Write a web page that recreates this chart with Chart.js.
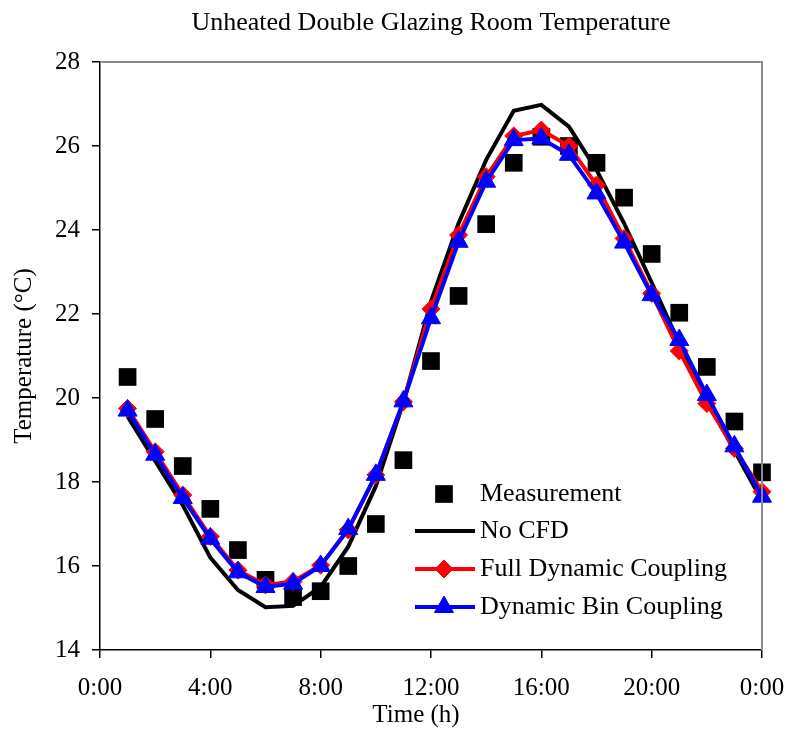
<!DOCTYPE html>
<html>
<head>
<meta charset="utf-8">
<script src="https://cdn.jsdelivr.net/npm/chart.js@4.4.1/dist/chart.umd.min.js"></script>
<style>
  html, body { margin: 0; padding: 0; background: #fff; }
  #wrap { width: 789px; height: 736px; }
</style>
</head>
<body>
<div id="wrap"><canvas id="tempChart" width="789" height="736"></canvas></div>
<script>
// hours of the day (1..24)
const hours = [1, 2, 3, 4, 5, 6, 7, 8, 9, 10, 11, 12, 13, 14, 15, 16, 17, 18, 19, 20, 21, 22, 23, 24];
const xTicks = [0, 4, 8, 12, 16, 20, 24];

const measurement = [20.5, 19.5, 18.38, 17.36, 16.38, 15.67, 15.26, 15.4, 16.0, 17.0, 18.52, 20.88,
    22.43, 24.14, 25.6, 26.22, 26.0, 25.6, 24.77, 23.43, 22.03, 20.74, 19.44, 18.23];
const noCfd = [19.56, 18.5, 17.45, 16.2, 15.43, 15.02, 15.05, 15.5, 16.46, 17.9, 19.9, 22.3,
    24.16, 25.67, 26.84, 26.98, 26.46, 25.43, 24.16, 22.75, 21.3, 19.95, 18.75, 17.55];
const fullCoupling = [19.75, 18.72, 17.69, 16.7, 15.9, 15.55, 15.63, 16.02, 16.86, 18.17, 19.91, 22.12,
    23.88, 25.27, 26.24, 26.38, 26.0, 25.07, 23.8, 22.49, 21.12, 19.87, 18.8, 17.77];
const binCoupling = [19.7, 18.65, 17.62, 16.65, 15.85, 15.5, 15.58, 16.0, 16.88, 18.17, 19.92, 21.9,
    23.72, 25.15, 26.14, 26.18, 25.79, 24.87, 23.7, 22.45, 21.38, 20.07, 18.85, 17.65];

const legendLabels = ["Measurement", "No CFD", "Full Dynamic Coupling", "Dynamic Bin Coupling"];

const serif = "'Liberation Serif', 'Times New Roman', serif";

const toPoints = (vals) => hours.map((h, i) => ({ x: h, y: vals[i] }));

// title, x axis title, gray frame on top/right, and legend inside the plot
const decorPlugin = {
    id: "decor",
    afterDraw(chart) {
        const ctx = chart.ctx;
        const a = chart.chartArea;
        ctx.save();
        ctx.fillStyle = "#000";
        ctx.textAlign = "center";
        ctx.textBaseline = "alphabetic";
        ctx.font = "26px " + serif;
        ctx.fillText("Unheated Double Glazing Room Temperature", 431, 30);

        ctx.font = "25px " + serif;
        ctx.textBaseline = "middle";
        ctx.fillText("Time (h)", 416, 715);

        // gray frame
        ctx.strokeStyle = "#8c8c8c";
        ctx.lineWidth = 2;
        ctx.beginPath();
        ctx.moveTo(a.left, a.top);
        ctx.lineTo(a.right, a.top);
        ctx.lineTo(a.right, a.bottom);
        ctx.stroke();

        // legend
        const rows = [494, 531, 569, 607];
        const ds = chart.data.datasets;
        ctx.font = "26px " + serif;
        ctx.textAlign = "left";
        rows.forEach((y, i) => {
            const d = ds[i];
            if (d.showLine !== false) {
                ctx.strokeStyle = d.borderColor;
                ctx.lineWidth = d.borderWidth;
                ctx.beginPath();
                ctx.moveTo(415, y);
                ctx.lineTo(475, y);
                ctx.stroke();
            }
            if (d.pointRadius > 0) {
                ctx.fillStyle = d.pointBackgroundColor;
                ctx.strokeStyle = d.pointBorderColor;
                ctx.lineWidth = d.pointBorderWidth;
                Chart.helpers.drawPoint(ctx, {
                    pointStyle: d.pointStyle,
                    rotation: 0,
                    radius: d.pointRadius,
                    borderWidth: d.pointBorderWidth,
                }, 444, y);
            }
            ctx.fillStyle = "#000";
            ctx.fillText(legendLabels[i], 480, y);
        });
        ctx.restore();
    },
};

new Chart(document.getElementById("tempChart").getContext("2d"), {
    type: "scatter",
    data: {
        datasets: [
            {
                label: legendLabels[0],
                data: toPoints(measurement),
                showLine: false,
                pointStyle: "rect",
                pointRadius: 12.5,
                pointBackgroundColor: "#000",
                pointBorderColor: "#000",
                pointBorderWidth: 0,
                clip: false,
                order: 4,
            },
            {
                label: legendLabels[1],
                data: toPoints(noCfd),
                showLine: true,
                borderColor: "#000",
                borderWidth: 4,
                pointRadius: 0,
                pointBackgroundColor: "#000",
                pointBorderColor: "#000",
                pointBorderWidth: 0,
                order: 3,
            },
            {
                label: legendLabels[2],
                data: toPoints(fullCoupling),
                showLine: true,
                borderColor: "#ff0000",
                borderWidth: 4,
                pointStyle: "rectRot",
                pointRadius: 9,
                pointBackgroundColor: "#ff0000",
                pointBorderColor: "#ff0000",
                pointBorderWidth: 1,
                clip: false,
                order: 2,
            },
            {
                label: legendLabels[3],
                data: toPoints(binCoupling),
                showLine: true,
                borderColor: "#0000ff",
                borderWidth: 4,
                pointStyle: "triangle",
                pointRadius: 11,
                pointBackgroundColor: "#0000ff",
                pointBorderColor: "#0000ff",
                pointBorderWidth: 1,
                clip: false,
                order: 1,
            },
        ],
    },
    options: {
        responsive: false,
        animation: false,
        layout: {
            padding: { left: 0, right: 27, top: 62, bottom: 0 },
        },
        plugins: {
            legend: { display: false },
            tooltip: { enabled: false },
        },
        scales: {
            x: {
                type: "linear",
                min: 0,
                max: 24,
                afterFit: (s) => {
                    s.height = 86;
                    s.paddingLeft = 0;
                    s.paddingRight = 0;
                },
                afterBuildTicks: (s) => { s.ticks = xTicks.map((v) => ({ value: v })); },
                grid: {
                    display: true,
                    drawOnChartArea: false,
                    drawTicks: true,
                    tickLength: 8,
                    color: "#000",
                    lineWidth: 1.5,
                },
                border: { display: true, color: "#000", width: 1.5 },
                ticks: {
                    color: "#000",
                    font: { family: serif, size: 25 },
                    padding: 15,
                    maxRotation: 0,
                    callback: (v) => (v % 24) + ":00",
                },
                title: { display: false },
            },
            y: {
                min: 14,
                max: 28,
                afterFit: (s) => {
                    s.width = 100;
                    s.paddingTop = 0;
                    s.paddingBottom = 0;
                },
                grid: {
                    display: true,
                    drawOnChartArea: false,
                    drawTicks: true,
                    tickLength: 8,
                    color: "#000",
                    lineWidth: 1.5,
                },
                border: { display: true, color: "#000", width: 1.5 },
                ticks: {
                    stepSize: 2,
                    color: "#000",
                    font: { family: serif, size: 25 },
                    padding: 12,
                },
                title: {
                    display: true,
                    text: "Temperature (°C)",
                    color: "#000",
                    font: { family: serif, size: 25 },
                    padding: { top: 9, bottom: 0 },
                },
            },
        },
    },
    plugins: [decorPlugin],
});
</script>
</body>
</html>
